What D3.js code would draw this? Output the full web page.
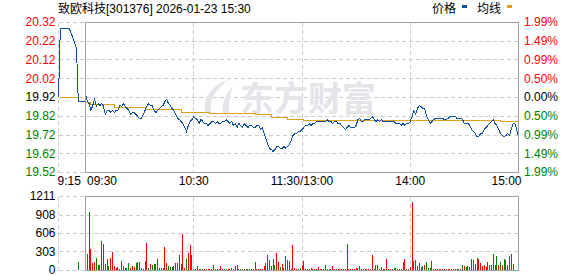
<!DOCTYPE html>
<html>
<head>
<meta charset="utf-8">
<script src="https://cdn.jsdelivr.net/npm/d3@7/dist/d3.min.js"></script>
<style>
body { margin: 0; background: #fff; }
svg text { font-family: "Liberation Sans", "Noto Sans CJK SC", sans-serif; font-size: 12px; }
</style>
</head>
<body>
<script>
// chart data
var title = "致欧科技[301376] 2026-01-23 15:30";
var preClose = 19.92;
var priceTicks = [19.52, 19.62, 19.72, 19.82, 19.92, 20.02, 20.12, 20.22, 20.32];
var pctLabels = ["1.99%", "1.49%", "0.99%", "0.50%", "0.00%", "0.50%", "0.99%", "1.49%", "1.99%"];
var volTicks = [0, 303, 606, 908, 1211];
var preLabel = "9:15";
var timeLabels = ["09:30", "10:30", "11:30/13:00", "14:00", "15:00"];
var timeMinutes = [0, 60, 120, 180, 240];

// call auction 9:15 - 9:30, one value a minute
var prePrice = [19.92, 20.29, 20.29, 20.29, 20.29, 20.29, 20.29, 20.26, 20.24, 20.21, 20.18, 19.90, 19.90, 19.90, 19.90, 19.90];
var preAvg = [19.92, 19.92, 19.92, 19.92, 19.92, 19.92, 19.92, 19.92, 19.92, 19.92, 19.92, 19.90, 19.90, 19.90, 19.90, 19.90];
var preVol = [0, 0, 0, 0, 0, 0, 0, 0, 0, 0, 0, 131, 0, 0, 0, 0];

// 9:30 - 15:00, one value a minute (241)
var price = [
  19.94,19.90,19.89,19.85,19.88,19.91,19.87,19.89,19.88,19.89,
  19.87,19.83,19.85,19.85,19.84,19.85,19.84,19.85,19.85,19.88,
  19.87,19.89,19.87,19.86,19.85,19.83,19.84,19.84,19.83,19.82,
  19.81,19.81,19.83,19.85,19.87,19.89,19.88,19.88,19.85,19.84,
  19.85,19.86,19.87,19.88,19.90,19.91,19.89,19.88,19.86,19.85,
  19.83,19.81,19.80,19.79,19.78,19.76,19.74,19.77,19.79,19.80,
  19.82,19.81,19.80,19.78,19.80,19.79,19.78,19.78,19.77,19.78,
  19.79,19.79,19.78,19.79,19.78,19.78,19.79,19.79,19.80,19.79,
  19.78,19.79,19.77,19.78,19.76,19.78,19.77,19.76,19.78,19.77,
  19.76,19.77,19.77,19.76,19.76,19.77,19.77,19.75,19.76,19.73,
  19.70,19.67,19.65,19.64,19.63,19.64,19.66,19.66,19.65,19.65,
  19.66,19.65,19.66,19.67,19.69,19.72,19.73,19.73,19.74,19.74,
  19.75,19.76,19.77,19.77,19.78,19.77,19.78,19.78,19.79,19.79,
  19.79,19.79,19.79,19.79,19.80,19.79,19.79,19.78,19.79,19.79,
  19.78,19.78,19.77,19.76,19.75,19.76,19.77,19.76,19.76,19.76,
  19.77,19.80,19.81,19.79,19.79,19.80,19.80,19.80,19.81,19.82,
  19.80,19.79,19.80,19.79,19.80,19.79,19.79,19.79,19.79,19.79,
  19.79,19.79,19.78,19.78,19.78,19.77,19.78,19.77,19.78,19.78,
  19.79,19.82,19.85,19.83,19.86,19.88,19.87,19.86,19.86,19.82,
  19.80,19.78,19.79,19.80,19.81,19.81,19.81,19.81,19.81,19.80,
  19.80,19.81,19.82,19.82,19.82,19.82,19.81,19.81,19.81,19.80,
  19.78,19.78,19.78,19.77,19.75,19.74,19.73,19.71,19.71,19.73,
  19.73,19.75,19.76,19.77,19.78,19.79,19.80,19.78,19.77,19.75,
  19.73,19.72,19.71,19.72,19.73,19.72,19.75,19.78,19.78,19.75,
  19.71
];

// average price, [minute, value] where it changes
var avgSteps = [[0,19.895],[3,19.883],[16,19.865],[33,19.854],[53,19.842],[69,19.836],
  [94,19.828],[103,19.815],[112,19.801],[121,19.797],[230,19.792]];

var volume = [
  0,262,949,344,120,136,196,82,82,474,
  425,98,180,65,196,294,65,33,49,20,
  147,65,33,33,115,33,65,45,115,131,
  131,33,20,147,442,33,98,82,98,98,
  180,25,33,33,376,115,65,45,45,65,
  115,115,245,98,589,33,180,278,409,245,
  16,16,65,20,20,16,20,16,20,16,
  20,82,16,20,16,65,16,20,20,16,
  20,33,16,65,82,16,20,16,20,16,
  16,20,16,20,131,16,20,16,20,65,
  115,245,164,65,180,82,278,131,49,98,
  33,229,164,147,20,409,33,16,16,33,
  82,147,16,20,16,33,16,20,16,49,
  20,16,16,82,20,16,20,65,16,20,
  16,20,16,20,16,425,20,16,20,16,
  33,33,65,16,16,20,16,20,16,245,
  20,82,82,16,49,20,16,180,20,16,
  20,33,33,16,20,16,131,180,16,20,
  49,1113,147,164,65,115,49,65,82,131,
  33,33,147,16,20,16,16,20,16,16,
  20,16,16,20,16,16,20,16,16,82,
  65,49,65,49,180,164,98,196,180,115,
  65,82,49,131,82,82,262,82,229,82,
  131,82,180,164,82,229,262,98,0,0,
  393
];
// 1 = up minute (red), 0 = down minute (green)
var volUp = [
  1,1,0,1,1,1,0,0,1,1, 0,0,1,0,1,1,1,1,0,0, 1,0,0,0,0,1,1,1,0,0, 0,1,1,0,1,0,1,0,0,0,
  1,0,1,1,1,1,0,0,0,1, 1,1,1,0,1,1,0,1,1,0, 1,1,0,1,0,1,1,0,1,1, 1,1,1,0,1,1,1,0,0,1,
  1,1,0,1,1,1,0,0,1,0, 0,0,0,1,0,1,1,1,1,1, 1,0,0,0,0,0,1,1,0,1, 0,0,1,1,1,1,1,1,0,0,
  1,1,1,1,0,0,1,1,1,1, 1,0,1,0,1,1,1,1,1,0, 1,1,1,1,1,0,1,1,1,1, 1,1,1,1,1,1,1,1,1,1,
  0,1,0,1,0,1,1,1,1,1, 0,0,1,1,1,0,0,1,1,0, 1,1,0,1,1,0,0,0,1,0, 0,0,1,1,1,1,0,1,1,1,
  0,1,1,1,1,1,1,0,1,0, 1,0,1,0,0,0,1,0,1,1, 1,1,1,1,1,0,0,0,0,1, 0,1,0,1,1,1,1,1,1,1,
  0
];

var W = 578, H = 276;
var red = "#ff0000", green = "#008000", blue = "#0f4f9f", gold = "#e0a01e";
var gridColor = "#cccccc", borderColor = "#a0a0a0";

var svg = d3.select("body").append("svg")
  .attr("width", W)
  .attr("height", H);

var xPre = d3.scaleLinear().domain([0, 15]).range([58.5, 85.5]);
var x = d3.scaleLinear().domain([0, 240]).range([85.5, 518.5]);
var y = d3.scaleLinear().domain([19.52, 20.32]).range([172.5, 22.5]);
var yv = d3.scaleLinear().domain([0, 1211]).range([270.5, 196.5]);

function snap(v) { return Math.floor(v) + 0.5; }
function tickColor(d) { return d > preClose + 1e-9 ? red : (d < preClose - 1e-9 ? green : "#000"); }

// grid
var grid = svg.append("g")
  .attr("stroke", gridColor)
  .attr("stroke-dasharray", "4,3")
  .attr("shape-rendering", "crispEdges");

grid.selectAll("line.hp").data(priceTicks).enter().append("line")
  .attr("x1", xPre(0)).attr("x2", x(240))
  .attr("y1", function (d) { return snap(y(d)); })
  .attr("y2", function (d) { return snap(y(d)); });

grid.selectAll("line.hv").data(volTicks).enter().append("line")
  .attr("x1", xPre(0)).attr("x2", x(240))
  .attr("y1", function (d) { return snap(yv(d)); })
  .attr("y2", function (d) { return snap(yv(d)); });

[[y.range()[1], y.range()[0]], [yv.range()[1], yv.range()[0]]].forEach(function (r) {
  grid.append("line").attr("x1", xPre(0)).attr("x2", xPre(0)).attr("y1", r[0]).attr("y2", r[1]);
  grid.selectAll(null).data([60, 120, 180]).enter().append("line")
    .attr("x1", function (d) { return snap(x(d)); })
    .attr("x2", function (d) { return snap(x(d)); })
    .attr("y1", r[0]).attr("y2", r[1]);
});

// watermark
var wm = svg.append("g").attr("fill", "#e4e4e9");
wm.append("path").attr("d", "M229 80 C213 84 202 97 205 113 L211 113 C209 100 215 89 229 80 Z");
wm.append("path").attr("d", "M233 86 C226 94 221 104 223 113 L229 113 C228 104 230 95 233 86 Z");
wm.append("text")
  .attr("x", 240).attr("y", 111)
  .style("font-family", "'Noto Sans CJK SC'")
  .style("font-size", "34px")
  .style("font-weight", "bold")
  .text("东方财富");

// volume bars
svg.append("g").attr("shape-rendering", "crispEdges")
  .selectAll("rect").data(preVol.map(function (v, i) { return [i, v]; }).filter(function (d) { return d[1] > 0; }))
  .enter().append("rect")
  .attr("x", function (d) { return Math.floor(xPre(d[0])); })
  .attr("width", 1)
  .attr("y", function (d) { return Math.floor(yv(d[1])); })
  .attr("height", function (d) { return 270 - Math.floor(yv(d[1])); })
  .attr("fill", green);

svg.append("g").attr("shape-rendering", "crispEdges")
  .selectAll("rect").data(volume.map(function (v, i) { return [i, v, volUp[i]]; }).filter(function (d) { return d[1] > 0; }))
  .enter().append("rect")
  .attr("x", function (d) { return Math.floor(x(d[0])); })
  .attr("width", 1)
  .attr("y", function (d) { return Math.floor(yv(d[1])); })
  .attr("height", function (d) { return 270 - Math.floor(yv(d[1])); })
  .attr("fill", function (d) { return d[2] ? red : green; });

// price and average lines
var preLine = d3.line().x(function (d, i) { return xPre(i); }).y(function (d) { return snap(y(d)); });
var preStep = d3.line().curve(d3.curveStepAfter).x(function (d, i) { return xPre(i); }).y(function (d) { return snap(y(d)); });
var mainLine = d3.line().x(function (d, i) { return x(i); }).y(function (d) { return snap(y(d)); });
var stepLine = d3.line().curve(d3.curveStepAfter)
  .x(function (d) { return x(d[0]); }).y(function (d) { return snap(y(d[1])); });

var avgPts = avgSteps.concat([[240, avgSteps[avgSteps.length - 1][1]]]);

svg.append("path").attr("d", preStep(preAvg))
  .attr("fill", "none").attr("stroke", gold).attr("shape-rendering", "crispEdges");
svg.append("path").attr("d", stepLine(avgPts))
  .attr("fill", "none").attr("stroke", gold).attr("shape-rendering", "crispEdges");

svg.append("path").attr("d", preLine(prePrice))
  .attr("fill", "none").attr("stroke", blue).attr("shape-rendering", "crispEdges");
svg.append("path").attr("d", mainLine(price))
  .attr("fill", "none").attr("stroke", blue).attr("shape-rendering", "crispEdges");

// boxes
svg.append("rect").attr("x", x(0)).attr("y", y(20.32)).attr("width", x(240) - x(0)).attr("height", y(19.52) - y(20.32))
  .attr("fill", "none").attr("stroke", borderColor).attr("shape-rendering", "crispEdges");
svg.append("rect").attr("x", x(0)).attr("y", yv(1211)).attr("width", x(240) - x(0)).attr("height", yv(0) - yv(1211))
  .attr("fill", "none").attr("stroke", borderColor).attr("shape-rendering", "crispEdges");

// axes (labels only)
function clean(g) {
  g.select(".domain").remove();
  g.selectAll("line").remove();
  g.attr("font-family", null).attr("font-size", null);
}

svg.append("g").attr("transform", "translate(" + xPre(0) + ",0)")
  .call(d3.axisLeft(y).tickValues(priceTicks).tickSize(0).tickPadding(3).offset(0).tickFormat(d3.format(".2f")))
  .call(clean)
  .selectAll("text").attr("fill", tickColor);

svg.append("g").attr("transform", "translate(" + x(240) + ",0)")
  .call(d3.axisRight(y).tickValues(priceTicks).tickSize(0).tickPadding(5.5).offset(0)
    .tickFormat(function (d, i) { return pctLabels[i]; }))
  .call(clean)
  .selectAll("text").attr("fill", tickColor);

svg.append("g").attr("transform", "translate(" + xPre(0) + ",0)")
  .call(d3.axisLeft(yv).tickValues(volTicks).tickSize(0).tickPadding(3).offset(0).tickFormat(d3.format("d")))
  .call(clean)
  .selectAll("text").attr("fill", "#000");

var tAxis = svg.append("g").attr("transform", "translate(0," + y(19.52) + ")")
  .call(d3.axisBottom(x).tickValues(timeMinutes).tickSize(0).tickPadding(4).offset(0)
    .tickFormat(function (d, i) { return timeLabels[i]; }))
  .call(clean);
tAxis.selectAll("text").attr("fill", "#000")
  .attr("text-anchor", function (d, i) { return i === 0 ? "start" : (i === timeMinutes.length - 1 ? "end" : "middle"); })
  .attr("dx", function (d, i) { return i === 0 ? 1.5 : (i === timeMinutes.length - 1 ? 3 : 0); });

svg.append("g").attr("transform", "translate(0," + y(19.52) + ")")
  .call(d3.axisBottom(xPre).tickValues([0]).tickSize(0).tickPadding(4).offset(0).tickFormat(function () { return preLabel; }))
  .call(clean)
  .selectAll("text").attr("fill", "#000").attr("text-anchor", "start").attr("dx", -1);

// title and legend
svg.append("text").attr("x", 58).attr("y", 13).attr("fill", "#000").text(title);
var legend = svg.append("g");
legend.append("text").attr("x", 432).attr("y", 13).attr("fill", "#000").text("价格");
legend.append("rect").attr("x", 462).attr("y", 5).attr("width", 5).attr("height", 3).attr("fill", blue);
legend.append("text").attr("x", 477).attr("y", 13).attr("fill", "#000").text("均线");
legend.append("rect").attr("x", 507).attr("y", 5).attr("width", 5).attr("height", 3).attr("fill", gold);
</script>
</body>
</html>
